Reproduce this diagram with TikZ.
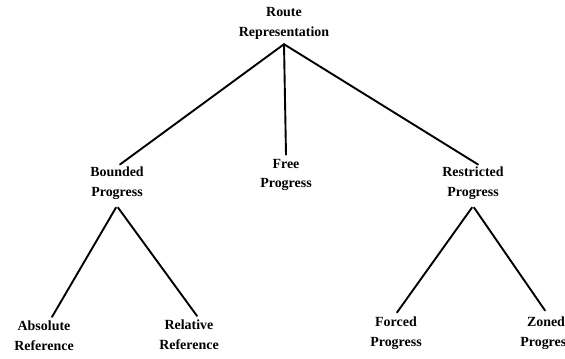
\documentclass[tikz,border=0pt]{standalone}
\usepackage{fontspec}
\setmainfont{Liberation Serif}
\begin{document}
\begin{tikzpicture}[x=1bp,y=-1bp,
  lbl/.style={align=center,inner sep=0pt,font=\bfseries\fontsize{14}{20}\selectfont},
  conn/.style={line width=1.9bp,line cap=round}]
\useasboundingbox (0,0) rectangle (565,358);
\node[lbl] (root) at (284,23) {Route\\Representation};
\node[lbl] (bounded) at (117,183) {Bounded\\Progress};
\node[lbl] (free) at (286,175) {Free\\Progress};
\node[lbl] (restricted) at (473,183) {Restricted\\Progress};
\node[lbl] (absolute) at (44,336) {Absolute\\Reference};
\node[lbl] (relative) at (189,335) {Relative\\Reference};
\node[lbl] (forced) at (396,333) {Forced\\Progress};
\node[lbl] (zoned) at (546,333) {Zoned\\Progress};
\coordinate (rootapex) at ([yshift=-5bp]root.south);
\draw[conn] (rootapex) -- ([xshift=3bp,yshift=2bp]bounded.north);
\draw[conn] (rootapex) -- ([yshift=4bp]free.north);
\draw[conn] (rootapex) -- ([xshift=5bp,yshift=2bp]restricted.north);
\coordinate (bapex) at ([yshift=-8bp]bounded.south);
\coordinate (rapex) at ([yshift=-8bp]restricted.south);
\draw[conn] ([xshift=-1bp]bapex) -- ([xshift=8bp,yshift=4bp]absolute.north);
\draw[conn] ([xshift=1bp]bapex) -- ([xshift=8bp,yshift=4bp]relative.north);
\draw[conn] ([xshift=-1bp]rapex) -- ([xshift=1bp,yshift=4bp]forced.north);
\draw[conn] ([xshift=1bp]rapex) -- ([xshift=-1bp,yshift=6bp]zoned.north);
\end{tikzpicture}
\end{document}
